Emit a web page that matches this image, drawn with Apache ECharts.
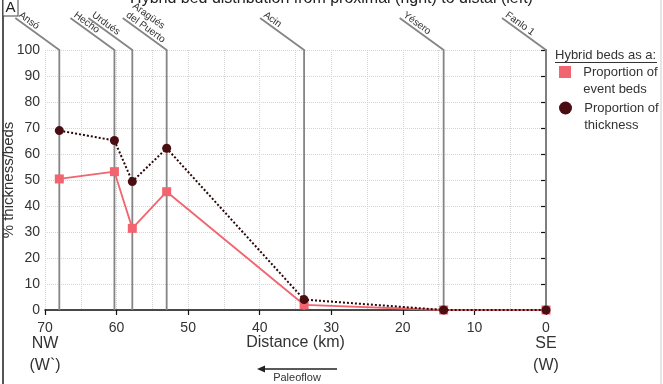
<!DOCTYPE html>
<html><head><meta charset="utf-8">
<script src="https://cdn.jsdelivr.net/npm/echarts@6/dist/echarts.min.js"></script>
<style>html,body{margin:0;padding:0;background:#fff}#c{width:663px;height:384px}</style>
</head><body><div id="c"></div><script>
// ---- data ----
const siteNames = ['Ansó', 'Hecho', 'Urdués', 'Aragüés\ndel Puerto', 'Acin', 'Yésero', 'Fanlo 1'];
const siteDistance = [68.0, 60.3, 57.8, 53.0, 33.8, 14.3, 0];
const eventBeds = [50.4, 53.2, 31.4, 45.5, 2.0, 0, 0];
const thickness = [69.0, 65.2, 49.4, 62.2, 4.0, 0, 0];
const xTickValues = [0, 10, 20, 30, 40, 50, 60, 70];
const xEndLabels = { 70: ['NW', '(W`)'], 0: ['SE', '(W)'] };
const seriesNames = ['Proportion of event beds', 'Proportion of thickness'];

const FONT = 'Liberation Sans, Arial, sans-serif';
const PINK = '#f0656f';
const DARK = '#4a0e12';

const chart = echarts.init(document.getElementById('c'), null, { renderer: 'canvas' });

const leaderAngle = 36 * Math.PI / 180;
const leaderLen = 44;

function legendCfg(name, icon, top, size) {
  return {
    data: [name], orient: 'vertical', left: 559, top: top, padding: 0,
    itemWidth: size, itemHeight: size, icon: icon, selectedMode: false,
    formatter: n => ' \n' + n.replace('of ', 'of\n').split('\n').map(s => '  ' + s).join('\n'),
    textStyle: { fontSize: 13, lineHeight: 17, color: '#333', fontFamily: FONT }
  };
}

const option = {
  animation: false,
  backgroundColor: '#fff',
  textStyle: { fontFamily: FONT },
  title: {
    text: 'Hybrid bed distribution from proximal (right) to distal (left)',
    left: 'center', top: -9, padding: 0,
    textStyle: { fontSize: 16, fontWeight: 'normal', color: '#222', fontFamily: FONT }
  },
  grid: { left: 45, right: 117, top: 50, bottom: 74, outerBoundsMode: 'none', containLabel: false },
  xAxis: {
    type: 'value', inverse: true, min: 0, max: 70, interval: 10,
    name: 'Distance (km)', nameLocation: 'middle', nameGap: 25, nameMoveOverlap: false,
    nameTextStyle: { fontSize: 16, color: '#333', fontFamily: FONT },
    axisLine: { show: true, onZero: false, lineStyle: { color: '#111', width: 1.5 } },
    axisTick: { show: true, length: 5, lineStyle: { color: '#111', width: 1.2 } },
    minorTick: { show: false, splitNumber: 2 },
    minorSplitLine: { show: true, lineStyle: { color: '#d4d4d4', type: 'dotted', width: 1 } },
    splitLine: { show: true, lineStyle: { color: '#d4d4d4', type: 'dotted', width: 1 } },
    axisLabel: {
      margin: 13, color: '#333', fontFamily: FONT,
      formatter: function (v) {
        if (xTickValues.indexOf(v) < 0) return '';
        const extra = xEndLabels[v];
        let s = '{a|' + v + '}';
        if (extra) s += '\n{b|' + extra[0] + '}\n{b|' + extra[1] + '}';
        return s;
      },
      rich: {
        a: { fontSize: 14, lineHeight: 10, color: '#333', fontFamily: FONT },
        b: { fontSize: 16, lineHeight: 22, color: '#333', fontFamily: FONT }
      }
    }
  },
  yAxis: {
    type: 'value', min: 0, max: 100, interval: 10,
    name: '% thickness/beds', nameLocation: 'middle', nameGap: 29, nameMoveOverlap: false,
    nameTextStyle: { fontSize: 15, color: '#333', fontFamily: FONT },
    axisLine: { show: true, lineStyle: { color: '#111', width: 1.5 } },
    axisTick: { show: true, length: 5, lineStyle: { color: '#111', width: 1.2 } },
    axisLabel: { fontSize: 14, color: '#333', margin: 5, fontFamily: FONT },
    splitLine: { show: true, lineStyle: { color: '#d4d4d4', type: 'dotted', width: 1 } }
  },
  legend: [
    legendCfg(seriesNames[0], 'rect', 46.5, 12),
    legendCfg(seriesNames[1], 'circle', 82.5, 13)
  ],
  graphic: [
    { type: 'line', shape: { x1: 3, y1: 0, x2: 3, y2: 384 }, style: { stroke: '#555', lineWidth: 2 } },
    { type: 'line', shape: { x1: 661, y1: 0, x2: 661, y2: 384 }, style: { stroke: '#ccc', lineWidth: 1 } },
    { type: 'rect', shape: { x: 3, y: -2, width: 15, height: 18 }, style: { stroke: '#444', lineWidth: 1, fill: '#fff' } },
    { type: 'text', x: 10.5, y: 8, style: { text: 'A', fontSize: 15, fill: '#222', align: 'center', verticalAlign: 'middle', fontFamily: FONT } },
    { type: 'text', x: 555, y: 55, style: { text: 'Hybrid beds as a:', fontSize: 13, fill: '#333', align: 'left', verticalAlign: 'middle', fontFamily: FONT } },
    { type: 'line', shape: { x1: 555, y1: 62.5, x2: 657, y2: 62.5 }, style: { stroke: '#333', lineWidth: 1 } },
    { type: 'line', shape: { x1: 262, y1: 369, x2: 337, y2: 369 }, style: { stroke: '#222', lineWidth: 1.5 } },
    { type: 'polygon', shape: { points: [[257, 369], [265, 365.5], [265, 372.5]] }, style: { fill: '#222' } },
    { type: 'text', x: 297, y: 378, style: { text: 'Paleoflow', fontSize: 11, fill: '#333', align: 'center', verticalAlign: 'middle', fontFamily: FONT } }
  ],
  series: [
    {
      type: 'custom', name: 'sites', silent: true, z: 1, clip: false,
      data: siteDistance.map(d => [d, 0]),
      encode: { x: 0, y: 1 },
      renderItem: function (params, api) {
        const d = api.value(0);
        const b = api.coord([d, 0]);
        const t = api.coord([d, 100]);
        const e = [t[0] - leaderLen, t[1] - leaderLen * Math.tan(leaderAngle)];
        const off = 1.5;
        return {
          type: 'group',
          children: [
            { type: 'polyline', shape: { points: [b, t, e] }, style: { stroke: '#858585', lineWidth: 1.8, fill: null } },
            {
              type: 'text', x: e[0] + off * Math.cos(leaderAngle), y: e[1] + off * Math.sin(leaderAngle) - 0.5,
              rotation: -leaderAngle,
              style: {
                text: siteNames[params.dataIndex], fontSize: 10, lineHeight: 11, fill: '#333',
                align: 'left', verticalAlign: 'bottom', fontFamily: FONT
              }
            }
          ]
        };
      }
    },
    {
      type: 'line', name: seriesNames[0], z: 3,
      data: siteDistance.map((d, i) => [d, eventBeds[i]]),
      symbol: 'rect', symbolSize: 9,
      itemStyle: { color: PINK },
      lineStyle: { color: PINK, width: 1.8 }
    },
    {
      type: 'line', name: seriesNames[1], z: 4,
      data: siteDistance.map((d, i) => [d, thickness[i]]),
      symbol: 'circle', symbolSize: 9,
      itemStyle: { color: DARK },
      lineStyle: { color: '#2a0708', width: 2, type: [2, 2] }
    }
  ]
};
chart.setOption(option);
</script></body></html>
